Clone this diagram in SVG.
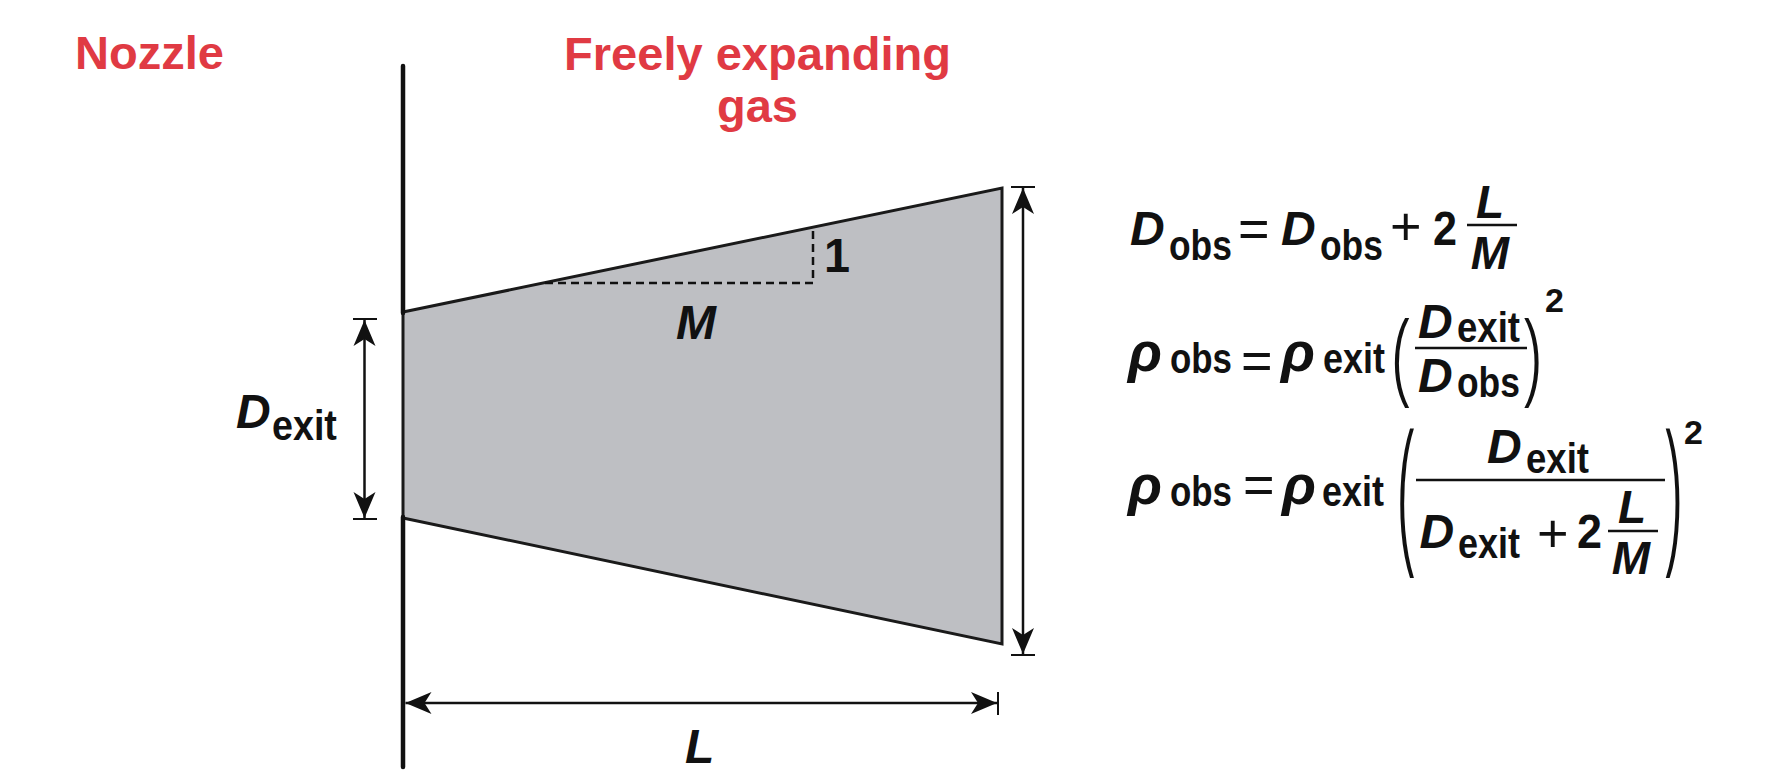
<svg xmlns="http://www.w3.org/2000/svg" width="1774" height="770" viewBox="0 0 1774 770">
  <style>
    .red { font-family: "Liberation Sans", Arial, sans-serif; font-weight: bold; font-size: 47px; fill: #E03A43; }
    .it { font-family: "Liberation Sans", Arial, sans-serif; font-weight: bold; font-style: italic; font-size: 48px; fill: #111; }
    .frac { font-size: 46px; }
    .rho { font-family: "Liberation Sans", Arial, sans-serif; font-weight: bold; font-style: italic; font-size: 56px; fill: #111; }
    .sub { font-family: "Liberation Sans", Arial, sans-serif; font-weight: bold; font-size: 42px; fill: #111; }
    .num { font-family: "Liberation Sans", Arial, sans-serif; font-weight: bold; font-size: 48px; fill: #111; }
    .sup { font-family: "Liberation Sans", Arial, sans-serif; font-weight: bold; font-size: 34px; fill: #111; }
    .op { font-family: "Liberation Sans", Arial, sans-serif; font-weight: normal; font-size: 54px; fill: #111; }
    .paren { font-family: "Noto Sans", "Liberation Sans", sans-serif; font-weight: 300; fill: #111; }
    .bar { stroke: #111; stroke-width: 2.5; fill: none; }
    .dim { stroke: #111; stroke-width: 2.5; fill: none; }
    .tick { stroke: #111; stroke-width: 2; fill: none; }
  </style>
  <defs>
    <marker id="arr" viewBox="-27 -12 28 24" refX="0" refY="0" markerWidth="28" markerHeight="24" markerUnits="userSpaceOnUse" orient="auto-start-reverse">
      <path d="M0,0 L-26,-11 L-19,0 L-26,11 Z" fill="#111"/>
    </marker>
  </defs>

  <g id="labels">
    <text class="red" x="75" y="69" textLength="149" lengthAdjust="spacingAndGlyphs">Nozzle</text>
    <text class="red" x="757.5" y="70" text-anchor="middle" textLength="387" lengthAdjust="spacingAndGlyphs">Freely expanding</text>
    <text class="red" x="757.5" y="122" text-anchor="middle">gas</text>
  </g>

  <g id="gas">
    <polygon points="403,312 1002,188 1002,644 403,518" fill="#BEBFC3" stroke="#1a1a1a" stroke-width="3" stroke-linejoin="miter"/>
    <path d="M545,283 H813 V227" stroke="#111" stroke-width="2.5" stroke-dasharray="8,5" fill="none"/>
    <text class="num" x="824" y="272" textLength="26" lengthAdjust="spacingAndGlyphs">1</text>
    <text class="it" x="676" y="339" font-size="45">M</text>
  </g>

  <g id="nozzle">
    <line x1="403" y1="66" x2="403" y2="313" stroke="#111" stroke-width="4.5" stroke-linecap="round"/>
    <line x1="403" y1="517" x2="403" y2="767" stroke="#111" stroke-width="4.5" stroke-linecap="round"/>
  </g>

  <g id="connectors">
    <line class="tick" x1="353" y1="319" x2="377" y2="319"/>
    <line class="tick" x1="353" y1="519" x2="377" y2="519"/>
    <line class="dim" x1="364.5" y1="320" x2="364.5" y2="518" marker-start="url(#arr)" marker-end="url(#arr)"/>
    <line class="tick" x1="1011" y1="187" x2="1035" y2="187"/>
    <line class="tick" x1="1011" y1="655" x2="1035" y2="655"/>
    <line class="dim" x1="1023" y1="188" x2="1023" y2="654" marker-start="url(#arr)" marker-end="url(#arr)"/>
    <line class="tick" x1="998" y1="692" x2="998" y2="715"/>
    <line class="dim" x1="405.5" y1="703" x2="997" y2="703" marker-start="url(#arr)" marker-end="url(#arr)"/>
  </g>

  <g id="dim-labels">
    <text class="it" x="236" y="428" font-size="50">D</text>
    <text class="sub" transform="translate(272,440) scale(0.897,1)" font-size="44">exit</text>
    <text class="it" x="685" y="763" font-size="48">L</text>
  </g>

  <g id="eq1">
    <text class="it" x="1130" y="245">D</text>
    <text class="sub" transform="translate(1169,260) scale(0.843,1)">obs</text>
    <text class="op" x="1238" y="247">=</text>
    <text class="it" x="1281" y="245">D</text>
    <text class="sub" transform="translate(1320,260) scale(0.843,1)">obs</text>
    <text class="op" x="1390" y="245" font-size="50">+</text>
    <text class="num" x="1433" y="245" textLength="24" lengthAdjust="spacingAndGlyphs">2</text>
    <line class="bar" x1="1467" y1="225" x2="1517" y2="225"/>
    <text class="it frac" x="1490" y="218" text-anchor="middle">L</text>
    <text class="it frac" x="1490" y="269" text-anchor="middle">M</text>
  </g>

  <g id="eq2">
    <text class="rho" x="1128" y="371">ρ</text>
    <text class="sub" transform="translate(1170,373) scale(0.83,1)">obs</text>
    <text class="op" x="1241" y="379">=</text>
    <text class="rho" x="1281" y="371">ρ</text>
    <text class="sub" transform="translate(1323,373) scale(0.856,1)">exit</text>
    <text class="paren" transform="translate(1392,392) scale(0.68,1)" font-size="103">(</text>
    <text class="it" x="1418" y="338">D</text>
    <text class="sub" transform="translate(1457,342) scale(0.87,1)">exit</text>
    <line class="bar" x1="1415" y1="348" x2="1527" y2="348"/>
    <text class="it" x="1418" y="392">D</text>
    <text class="sub" transform="translate(1457,397) scale(0.843,1)">obs</text>
    <text class="paren" transform="translate(1522,392) scale(0.68,1)" font-size="103">)</text>
    <text class="sup" x="1545" y="312">2</text>
  </g>

  <g id="eq3">
    <text class="rho" x="1128" y="504">ρ</text>
    <text class="sub" transform="translate(1170,506) scale(0.83,1)">obs</text>
    <text class="op" x="1243" y="503">=</text>
    <text class="rho" x="1282" y="504">ρ</text>
    <text class="sub" transform="translate(1322,506) scale(0.856,1)">exit</text>
    <text class="paren" transform="translate(1397.6,551) scale(0.39,1)" font-size="172">(</text>
    <text class="it" x="1487" y="463">D</text>
    <text class="sub" transform="translate(1526,473) scale(0.87,1)">exit</text>
    <line class="bar" x1="1416" y1="480" x2="1665" y2="480"/>
    <text class="it" x="1419.5" y="548">D</text>
    <text class="sub" transform="translate(1458,558) scale(0.856,1)">exit</text>
    <text class="op" x="1537" y="552" font-size="50">+</text>
    <text class="num" x="1577" y="548" textLength="25" lengthAdjust="spacingAndGlyphs">2</text>
    <line class="bar" x1="1608" y1="531" x2="1658" y2="531"/>
    <text class="it frac" x="1632" y="523" text-anchor="middle">L</text>
    <text class="it frac" x="1631" y="574" text-anchor="middle">M</text>
    <text class="paren" transform="translate(1663.6,551) scale(0.39,1)" font-size="172">)</text>
    <text class="sup" x="1684" y="444">2</text>
  </g>
</svg>
